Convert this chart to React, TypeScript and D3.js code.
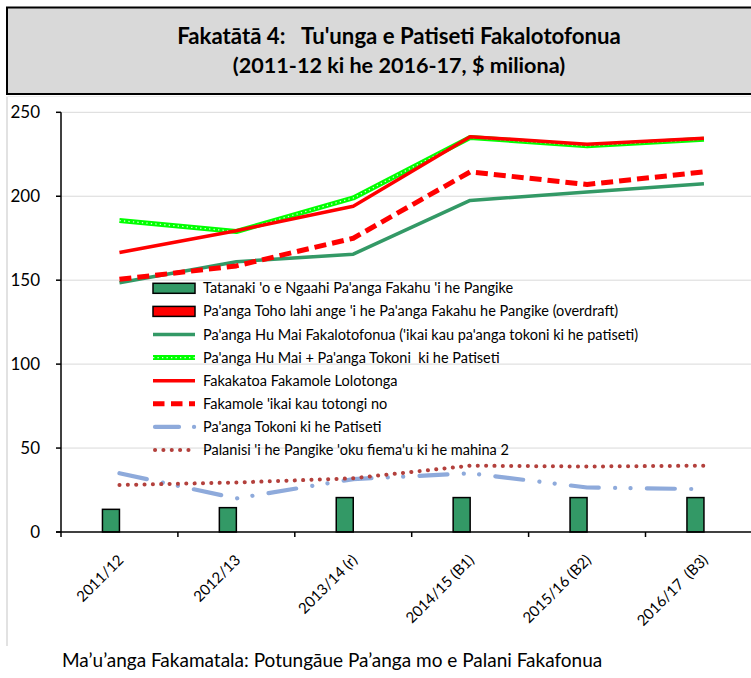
import React from "react";
import * as d3 from "d3";

const categories = ["2011/12", "2012/13", "2013/14 (r)", "2014/15 (B1)", "2015/16 (B2)", "2016/17  (B3)"];
const tatanaki = [13.5, 14.5, 20.5, 20.5, 20.5, 20.5];
const overdraft = [0, 0, 0, 0, 0, 0];
const huMai = [148.5, 161, 165.5, 197.5, 202.5, 207.5];
const huMaiTokoni = [185.5, 179, 199, 235, 230, 234];
const fakakatoa = [166.5, 179.5, 194, 235.5, 231, 234.5];
const fakamole = [150.5, 158.5, 175, 214.5, 207, 214.5];
const tokoni = [35, 20, 31.5, 35, 26.5, 25.5];
const palanisi = [28, 29.5, 32, 39.5, 39, 39.5];
const yTicks = [0, 50, 100, 150, 200, 250];
const legendLabels = [
  "Tatanaki 'o e Ngaahi Pa'anga Fakahu 'i he Pangike",
  "Pa'anga Toho lahi ange 'i he Pa'anga Fakahu he Pangike (overdraft)",
  "Pa'anga Hu Mai Fakalotofonua ('ikai kau pa'anga tokoni ki he patiseti)",
  "Pa'anga Hu Mai + Pa'anga Tokoni  ki he Patiseti",
  "Fakakatoa Fakamole Lolotonga",
  "Fakamole 'ikai kau totongi no",
  "Pa'anga Tokoni ki he Patiseti",
  "Palanisi 'i he Pangike 'oku fiema'u ki he mahina 2",
];
const titleLine1 = "Fakatātā 4:   Tu'unga e Patiseti Fakalotofonua";
const titleLine2 = "(2011-12 ki he 2016-17, $ miliona)";
const source = "Ma’u’anga Fakamatala: Potungāue Pa’anga mo e Palani Fakafonua";

const FONT = "Lato, 'Open Sans', sans-serif";

export default function App() {
  const W = 751, H = 678;
  const left = 61, right = 762.4, top = 112.3, bottom = 532;
  const x = d3.scaleBand<string>().domain(categories).range([left, right]).padding(0);
  const bw = x.bandwidth();
  const xs = d3.scaleBand<string>().domain(["a", "b"]).range([0, bw]).paddingInner(0).paddingOuter((bw / 17 - 2) / 2);
  const y = d3.scaleLinear().domain([0, 250]).range([bottom, top]);
  const cx = (i: number) => (x(categories[i]) as number) + bw / 2;
  const line = (vals: number[]) =>
    d3.line<number>().x((_, i) => cx(i)).y((v) => y(v))(vals) as string;

  const greenSolid = "#339966";
  const bright = "#00ff00";
  const red = "#ff0000";
  const blue = "#8eaadb";
  const brown = "#b3403c";

  const legY0 = 288.3, legStep = 23.1, lx0 = 153, lx1 = 195, ltx = 203;

  return (
    <svg width={W} height={H} style={{ position: "absolute", left: 0, top: 0, background: "#fff" }} fontFamily={FONT}>
      {/* title box */}
      <rect x={7} y={7.5} width={770} height={86.5} fill="#d9d9d9" stroke="#000" strokeWidth={2} />
      <text x={399} y={43.5} textAnchor="middle" fontSize={22.2} fontWeight="bold" fill="#000" style={{ whiteSpace: "pre" }}>{titleLine1}</text>
      <text x={399} y={72.5} textAnchor="middle" fontSize={21.6} fontWeight="bold" fill="#000" style={{ whiteSpace: "pre" }}>{titleLine2}</text>
      {/* chart area border */}
      <line x1={7} x2={7} y1={96.5} y2={646} stroke="#d9d9d9" strokeWidth={1.5} />
      <line x1={7} x2={760} y1={96.5} y2={96.5} stroke="#eeeeee" strokeWidth={1} />
      {/* gridlines */}
      {yTicks.filter((t) => t > 0).map((t) => (
        <line key={t} x1={left} x2={W} y1={y(t)} y2={y(t)} stroke="#d9d9d9" strokeWidth={1} />
      ))}
      {/* bars */}
      {categories.map((c, i) => (
        <g key={c}>
          <rect x={(x(c) as number) + (xs("a") as number)} y={y(tatanaki[i])} width={xs.bandwidth()} height={bottom - y(tatanaki[i])} fill="#339966" stroke="#000" strokeWidth={1.5} />
          {overdraft[i] > 0 && (
            <rect x={(x(c) as number) + (xs("b") as number)} y={y(overdraft[i])} width={xs.bandwidth()} height={bottom - y(overdraft[i])} fill={red} stroke="#000" strokeWidth={1.5} />
          )}
        </g>
      ))}
      {/* lines */}
      <path d={line(huMai)} fill="none" stroke={greenSolid} strokeWidth={3.5} strokeLinejoin="round" />
      <path d={line(huMaiTokoni)} fill="none" stroke={bright} strokeWidth={5} strokeLinejoin="round" />
      <path d={line(huMaiTokoni)} fill="none" stroke="#d8ffd8" strokeWidth={1.3} strokeDasharray="1.3,3.2" />
      <path d={line(fakakatoa)} fill="none" stroke={red} strokeWidth={3.5} strokeLinejoin="round" />
      <path d={line(fakamole)} fill="none" stroke={red} strokeWidth={5} strokeDasharray="12,6" strokeLinejoin="round" />
      <path d={line(tokoni)} fill="none" stroke={blue} strokeWidth={4.2} strokeLinecap="round" strokeLinejoin="round" strokeDasharray="28,16.3,0.1,15.3,0.1,16.3" />
      <path d={line(palanisi)} fill="none" stroke={brown} strokeWidth={4} strokeLinecap="round" strokeDasharray="0.1,8.25" />
      {/* axes */}
      <line x1={left} x2={left} y1={top} y2={bottom} stroke="#000" strokeWidth={1.5} />
      {yTicks.map((t) => (
        <g key={t}>
          <line x1={left - 5} x2={left} y1={y(t)} y2={y(t)} stroke="#000" strokeWidth={1.5} />
          <text x={40} y={y(t)} dy="0.36em" textAnchor="end" fontSize={17} fill="#000">{t}</text>
        </g>
      ))}
      <line x1={left - 5} x2={W} y1={bottom} y2={bottom} stroke="#000" strokeWidth={1.5} />
      {categories.map((c) => (
        <line key={c} x1={x(c) as number} x2={x(c) as number} y1={bottom} y2={bottom + 5} stroke="#000" strokeWidth={1.5} />
      ))}
      {categories.map((c, i) => (
        <text key={c} transform={`translate(${cx(i) + 5},${561}) rotate(-45)`} textAnchor="end" fontSize={15} fill="#000" style={{ whiteSpace: "pre" }}>{c}</text>
      ))}
      {/* legend */}
      {legendLabels.map((l, i) => {
        const yy = legY0 + i * legStep;
        let sw: React.ReactNode = null;
        if (i === 0) sw = <rect x={lx0} y={yy - 5} width={lx1 - lx0} height={10} fill="#339966" stroke="#000" strokeWidth={1.5} />;
        if (i === 1) sw = <rect x={lx0} y={yy - 5} width={lx1 - lx0} height={10} fill={red} stroke="#000" strokeWidth={1.5} />;
        if (i === 2) sw = <line x1={lx0} x2={lx1} y1={yy} y2={yy} stroke={greenSolid} strokeWidth={3.5} />;
        if (i === 3) sw = <g><line x1={lx0} x2={lx1} y1={yy} y2={yy} stroke={bright} strokeWidth={5} /><line x1={lx0} x2={lx1} y1={yy} y2={yy} stroke="#d8ffd8" strokeWidth={1.3} strokeDasharray="1.3,3.2" /></g>;
        if (i === 4) sw = <line x1={lx0} x2={lx1} y1={yy} y2={yy} stroke={red} strokeWidth={3.5} />;
        if (i === 5) sw = <line x1={lx0} x2={lx1} y1={yy} y2={yy} stroke={red} strokeWidth={5} strokeDasharray="11.5,6.5" />;
        if (i === 6) sw = <line x1={lx0 + 2} x2={lx1} y1={yy} y2={yy} stroke={blue} strokeWidth={4.2} strokeLinecap="round" strokeDasharray="24,15,0.1,20" />;
        if (i === 7) sw = <line x1={lx0 + 2} x2={lx1} y1={yy} y2={yy} stroke={brown} strokeWidth={4} strokeLinecap="round" strokeDasharray="0.1,8.25" />;
        return (
          <g key={i}>
            {sw}
            <text x={ltx} y={yy} dy="0.35em" fontSize={14.5} fill="#000" style={{ whiteSpace: "pre" }}>{l}</text>
          </g>
        );
      })}
      {/* source */}
      <text x={62} y={667} fontSize={19} fill="#000">{source}</text>
    </svg>
  );
}
